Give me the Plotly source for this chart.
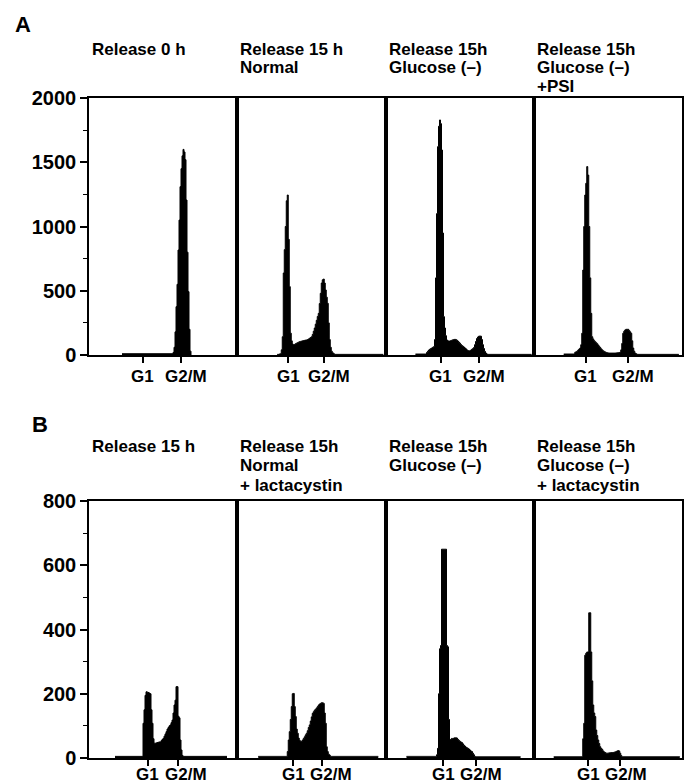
import plotly.graph_objects as go

W, H = 689, 784
FONT = "Liberation Sans, Arial, Helvetica, sans-serif"

# ---------------- data ----------------
# DNA-content histograms: first channel of each panel + counts per channel
A1_START = 33
A1_COUNTS = [10, 10, 10, 10, 10, 10, 10, 10, 10, 10,
             10, 10, 10, 10, 10, 10, 10, 10, 10, 10,
             10, 10, 10, 10, 10, 10, 10, 10, 10, 10,
             10, 10, 10, 10, 10, 10, 10, 10, 10, 10,
             10, 10, 10, 10, 10, 10, 10, 10, 10, 10,
             10,
             20, 60, 180, 376, 550, 817, 1050, 1310, 1450, 1550,
             1600, 1580, 1520, 1206, 800, 493, 200, 30, 0]

A2_START = 40
A2_COUNTS = [5, 5, 8, 10, 40, 142, 638, 820, 1000, 1200,
             1245, 900, 532, 170, 110, 85, 78, 82, 88, 92,
             96, 100, 104, 106, 108, 110, 112, 114, 116, 117,
             120, 125, 130, 136, 142, 160, 185, 210, 240, 270,
             300, 324, 400, 480, 560, 585, 591, 560, 506, 450,
             402, 250, 120, 60, 30, 18, 12, 5, 5, 5,
             5, 5, 5, 5, 5, 5, 5, 5, 5, 5,
             5, 5, 5, 5, 5, 5, 5, 5, 5, 5,
             5, 5, 5, 5, 5, 5, 5, 5, 5, 5,
             5, 5, 5, 5, 5, 5, 5, 5, 5, 5,
             5, 5, 5, 5, 5, 5, 5]

A3_START = 30
A3_COUNTS = [8, 8, 8, 8, 8, 8, 8, 8, 8, 8,
             8, 20, 30, 39, 45, 50, 55, 60, 65, 120,
             600, 1100, 1621, 1780, 1829, 1800, 1595, 949, 298, 210,
             150, 117, 110, 108, 109, 112, 115, 118, 120, 122,
             120, 115, 108, 100, 92, 82, 74, 68, 62, 55,
             48, 40, 35, 33, 33, 38, 44, 50, 58, 80,
             105, 128, 140, 146, 148, 146, 120, 80, 50, 28,
             15, 8, 5, 5, 5, 5, 5, 5, 5, 5,
             5, 5, 5, 5, 5, 5, 5, 5, 5, 5,
             5, 5, 5, 5, 5, 5, 5, 5, 5, 5,
             5, 5, 5, 5, 5, 5, 5, 5, 5, 5,
             5, 5, 5, 5, 5, 5, 5]

A4_START = 30
A4_COUNTS = [8, 8, 8, 8, 8, 8, 8, 8, 8, 8,
             8, 21, 25, 30, 38, 46, 54, 80, 169, 661,
             1000, 1245, 1336, 1466, 1400, 1000, 600, 324, 142, 125,
             112, 104, 96, 88, 78, 68, 58, 48, 40, 33,
             28, 24, 20, 18, 16, 15, 15, 15, 15, 15,
             15, 15, 16, 17, 18, 19, 21, 40, 90, 169,
             185, 195, 200, 200, 200, 190, 180, 169, 110, 54,
             30, 15, 10, 5, 5, 5, 5, 5, 5, 5,
             5, 5, 5, 5, 5, 5, 5, 5, 5, 5,
             5, 5, 5, 5, 5, 5, 5, 5, 5, 5,
             5, 5, 5, 5, 5, 5, 5, 5, 5, 5,
             5, 5, 5, 5, 5, 5]

B1_START = 26
B1_COUNTS = [5, 5, 5, 5, 5, 5, 5, 5, 5, 5,
             5, 5, 5, 5, 5, 5, 5, 5, 5, 5,
             5, 5, 5, 5, 5, 5, 5, 5,
             108, 150, 195, 206, 205, 204, 202, 200, 150, 108,
             60, 46, 46, 47, 48, 49, 50, 50, 54, 58,
             61, 68, 75, 82, 90, 95, 100, 103, 110, 118,
             140, 165, 180, 222, 222, 130, 125, 56, 25, 8,
             5, 5, 5, 5, 5, 5, 5, 5, 5, 5,
             5, 5, 5, 5, 5, 5, 5, 5, 5, 5,
             5, 5, 5, 5, 5, 5, 5, 5, 5, 5,
             5, 5, 5, 5, 5, 5, 5, 5, 5, 5,
             5, 5, 5, 5, 5]

B2_START = 21
B2_COUNTS = [5, 5, 5, 5, 5, 5, 5, 5, 5, 5,
             5, 5, 5, 5, 5, 5, 5, 5, 5, 5,
             5, 5, 5, 5, 5, 5, 5, 5, 5,
             20, 56, 82, 120, 160, 200, 201, 160, 129, 90,
             77, 62, 55, 51, 52, 56, 61, 66, 72, 77,
             85, 95, 103, 115, 128, 139, 144, 149, 152, 156,
             160, 165, 168, 170, 172, 172, 170, 140, 108, 35,
             20, 12, 9, 5, 5, 5, 5, 5, 5, 5,
             5, 5, 5, 5, 5, 5, 5, 5, 5, 5,
             5, 5, 5, 5, 5, 5, 5, 5, 5, 5,
             5, 5, 5, 5, 5, 5, 5, 5, 5, 5,
             5, 5, 5, 5, 5, 5, 5, 5, 5, 5,
             5, 5]

B3_START = 21
B3_COUNTS = [5, 5, 5, 5, 5, 5, 5, 5, 5, 5,
             5, 5, 5, 5, 5, 5, 5, 5, 5, 5,
             5, 5, 5, 5, 5, 5, 5, 5, 5, 5,
             10, 30, 200, 340, 350, 650, 650, 650, 650, 650,
             350, 346, 120, 56, 58, 61, 60, 62, 63, 63,
             62, 58, 55, 52, 50, 48, 44, 40, 37, 34,
             32, 30, 28, 25, 22, 20, 15, 10, 5, 4,
             4, 4, 4, 4, 4, 4, 4, 4, 4, 4,
             4, 4, 4, 4, 4, 4, 4, 4, 4, 4,
             4, 4, 4, 4, 4, 4, 4, 4, 4, 4,
             4, 4, 4, 4, 4, 4, 4, 4, 4, 4,
             4, 4, 4, 4, 4]

B4_START = 20
B4_COUNTS = [4, 4, 4, 4, 4, 4, 4, 4, 4, 4,
             4, 4, 4, 4, 4, 4, 4, 4, 4, 4,
             4, 4, 4, 4, 4, 4, 4, 4, 4,
             60, 108, 320, 326, 330, 330, 452, 452, 330, 240,
             165, 140, 129, 87, 70, 56, 45, 35, 30, 27,
             22, 19, 17, 15, 15, 15, 16, 16, 17, 17,
             17, 18, 19, 20, 22, 23, 22, 15, 8, 4,
             4, 4, 4, 4, 4, 4, 4, 4, 4, 4,
             4, 4, 4, 4, 4, 4, 4, 4, 4, 4,
             4, 4, 4, 4, 4, 4, 4, 4, 4, 4,
             4, 4, 4, 4, 4, 4, 4, 4, 4, 4,
             4, 4, 4, 4, 4, 4, 4, 4, 4, 4,
             4, 4, 4, 4, 4, 4, 4, 4]

# channel of the G1 and G2/M tick in each panel
G1_TICKS_A = [53.7, 51.0, 55.2, 51.9]
G2M_TICKS_A = [92.0, 87.0, 93.8, 93.9]
G1_TICKS_B = [58.7, 56.0, 57.8, 54.5]
G2M_TICKS_B = [88.7, 84.4, 90.2, 86.5]
X_TICK_TEXT = ["G1", "G2/M"]

Y_TICKS_A = [0, 500, 1000, 1500, 2000]
Y_TICKS_B = [0, 200, 400, 600, 800]

TITLES_A = [["Release 0 h"],
            ["Release 15 h", "Normal"],
            ["Release 15h", "Glucose (–)"],
            ["Release 15h", "Glucose (–)", "+PSI"]]
TITLES_B = [["Release 15 h"],
            ["Release 15h", "Normal", "+ lactacystin"],
            ["Release 15h", "Glucose (–)"],
            ["Release 15h", "Glucose (–)", "+ lactacystin"]]

PANEL_LETTERS = ["A", "B"]

# ---------------- layout geometry (pixels) ----------------
LEFT, RIGHT = 89.0, 682.0
PW_PX = (RIGHT - LEFT) / 4
ROWS = [dict(top=98.0, bottom=355.0, ymax=2000, yticks=Y_TICKS_A, minor=250,
             title_y=[49, 67.5, 86], letter_xy=(13, 25), titles=TITLES_A,
             label_y=376, g1=G1_TICKS_A, g2=G2M_TICKS_A,
             data=[(A1_START, A1_COUNTS), (A2_START, A2_COUNTS),
                   (A3_START, A3_COUNTS), (A4_START, A4_COUNTS)]),
        dict(top=501.0, bottom=758.0, ymax=800, yticks=Y_TICKS_B, minor=100,
             title_y=[446.5, 465.7, 485], letter_xy=(30, 424), titles=TITLES_B,
             label_y=774, g1=G1_TICKS_B, g2=G2M_TICKS_B,
             data=[(B1_START, B1_COUNTS), (B2_START, B2_COUNTS),
                   (B3_START, B3_COUNTS), (B4_START, B4_COUNTS)])]

fig = go.Figure()
layout = dict(width=W, height=H, margin=dict(l=0, r=0, t=0, b=0, autoexpand=False),
              paper_bgcolor="white", plot_bgcolor="white", showlegend=False,
              font=dict(family=FONT, color="black"))
annotations = []

k = 0
for r, row in enumerate(ROWS):
    ydom = [1 - row["bottom"] / H, 1 - row["top"] / H]
    for c in range(4):
        k += 1
        x0 = LEFT + c * PW_PX
        xdom = [x0 / W, (x0 + PW_PX) / W]
        start, counts = row["data"][c]
        chans = [start + i for i in range(len(counts))]
        fig.add_trace(go.Scatter(
            x=chans, y=counts, mode="lines",
            line=dict(shape="hv", color="black", width=1),
            fill="tozeroy", fillcolor="black",
            xaxis=f"x{k}", yaxis=f"y{k}", hoverinfo="skip"))
        g1, g2 = row["g1"][c], row["g2"][c]
        layout[f"xaxis{k}"] = dict(
            domain=xdom, range=[0, PW_PX], anchor=f"y{k}", automargin=False,
            tickvals=[g1, g2], showticklabels=False,
            ticks="outside", ticklen=6, tickwidth=1.5, tickcolor="black",
            showline=True, linecolor="black", linewidth=1.5, mirror=True,
            showgrid=False, zeroline=False)
        # tick labels: "G2/M" sits a little right of its tick, clear of "G1"
        label_x = [g1, max(g2 + 5, g1 + 38)]
        for t, txt in enumerate(X_TICK_TEXT):
            annotations.append(dict(
                text=txt, xref=f"x{k}", yref="paper",
                x=label_x[t], y=1 - row["label_y"] / H,
                xanchor="center", yanchor="middle", showarrow=False,
                font=dict(family=FONT, size=17, weight="bold", color="black")))
        yax = dict(
            domain=ydom, range=[0, row["ymax"]], anchor=f"x{k}", automargin=False,
            showline=True, linecolor="black", linewidth=1.5, mirror=True,
            showgrid=False, zeroline=False)
        if c == 0:
            yax.update(tickvals=row["yticks"], ticks="outside", ticklen=7,
                       tickwidth=1.5, tickcolor="black",
                       tickfont=dict(family=FONT, size=20, weight="bold", color="black"),
                       minor=dict(ticks="outside", ticklen=4, dtick=row["minor"],
                                  tickwidth=1.2, tickcolor="black", showgrid=False))
        else:
            yax.update(showticklabels=False, ticks="")
        layout[f"yaxis{k}"] = yax

        for li, line in enumerate(row["titles"][c]):
            annotations.append(dict(
                text=line, xref="paper", yref="paper",
                x=(x0 + 1) / W, y=1 - row["title_y"][li] / H,
                xanchor="left", yanchor="middle", showarrow=False,
                font=dict(family=FONT, size=17, weight="bold", color="black")))

    lx, ly = row["letter_xy"]
    annotations.append(dict(
        text=PANEL_LETTERS[r], xref="paper", yref="paper",
        x=lx / W, y=1 - ly / H, xanchor="left", yanchor="middle",
        showarrow=False,
        font=dict(family=FONT, size=22, weight="bold", color="black")))

layout["annotations"] = annotations
fig.update_layout(**layout)
fig.write_html("out.html", config={"displayModeBar": False},
               post_script="document.body.style.margin='0px';"
                           "document.body.style.overflow='hidden';")
